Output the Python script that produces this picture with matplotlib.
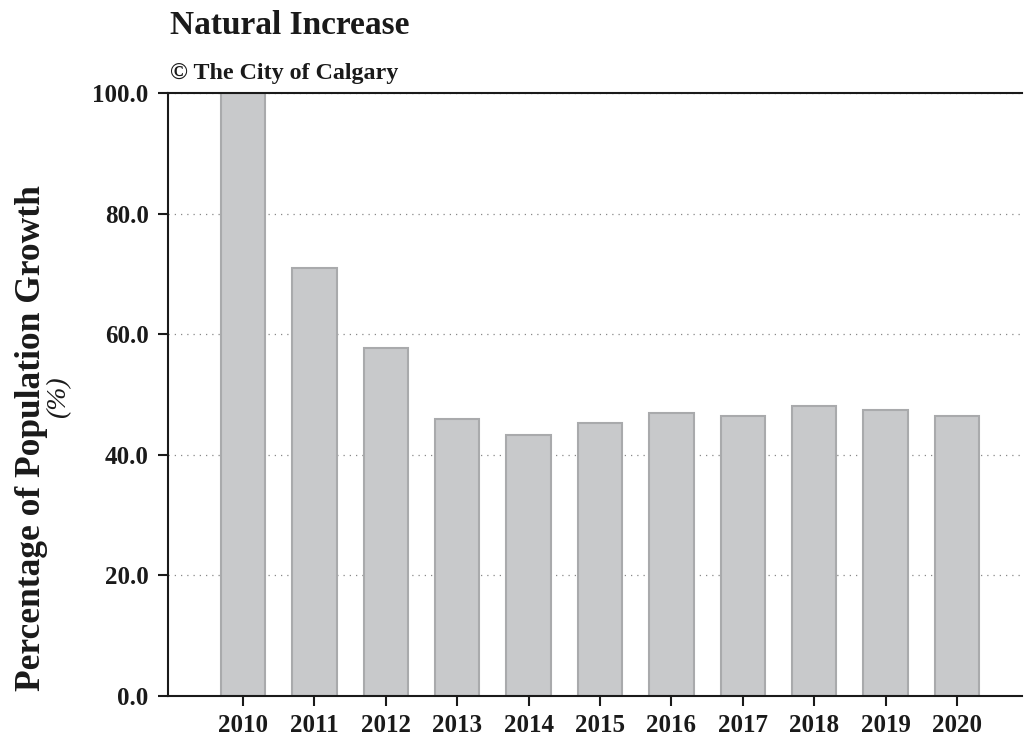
import matplotlib.pyplot as plt

years = ['2010', '2011', '2012', '2013', '2014', '2015', '2016', '2017', '2018', '2019', '2020']
natural_increase = [100.0, 70.9, 57.7, 45.9, 43.3, 45.2, 46.9, 46.4, 48.1, 47.5, 46.5]
y_ticks = [0, 20, 40, 60, 80, 100]

plt.rcParams['font.family'] = ['Liberation Serif', 'DejaVu Serif']

fig = plt.figure(figsize=(10.25, 7.42), dpi=100)
ax = fig.add_axes([168 / 1025, 1 - 696 / 742, (1022 - 168) / 1025, (696 - 93) / 742])

x = range(len(years))
ax.bar(x, natural_increase, width=0.62, color='#c8c9cb', edgecolor='#a9aaac', linewidth=1.5, zorder=2)

ax.set_xlim(-1.05, 10.91)
ax.set_ylim(0, 100)
ax.set_xticks(list(x))
ax.set_xticklabels(years, fontsize=18, fontweight='bold')
ax.set_yticks(y_ticks)
ax.set_yticklabels([f'{v:.1f}' for v in y_ticks], fontsize=18, fontweight='bold')
ax.tick_params(axis='both', direction='out', length=7, width=1.5, color='#1a1a1a',
               labelcolor='#1a1a1a', pad=7)
ax.tick_params(axis='x', pad=6)

ax.grid(axis='y', linestyle=(0, (1, 4)), color='#888888', linewidth=0.9, zorder=1)

ax.spines['right'].set_visible(False)
for s in ['left', 'bottom', 'top']:
    ax.spines[s].set_linewidth(1.5)
    ax.spines[s].set_color('#1a1a1a')

fig.text(170 / 1025, 1 - 25 / 742, 'Natural Increase', fontsize=24, fontweight='bold',
         va='center', ha='left', color='#1a1a1a')
fig.text(170 / 1025, 1 - 73 / 742, '\u00a9 The City of Calgary', fontsize=17.3, fontweight='bold',
         va='center', ha='left', color='#1a1a1a')
fig.text(32 / 1025, 1 - 438 / 742, 'Percentage of Population Growth', fontsize=25.5, fontweight='bold',
         rotation=90, va='center', ha='center', color='#1a1a1a')
fig.text(59 / 1025, 1 - 397 / 742, '(%)', fontsize=20, fontstyle='italic',
         rotation=90, va='center', ha='center', color='#1a1a1a')

fig.savefig('out.png', dpi=100)
